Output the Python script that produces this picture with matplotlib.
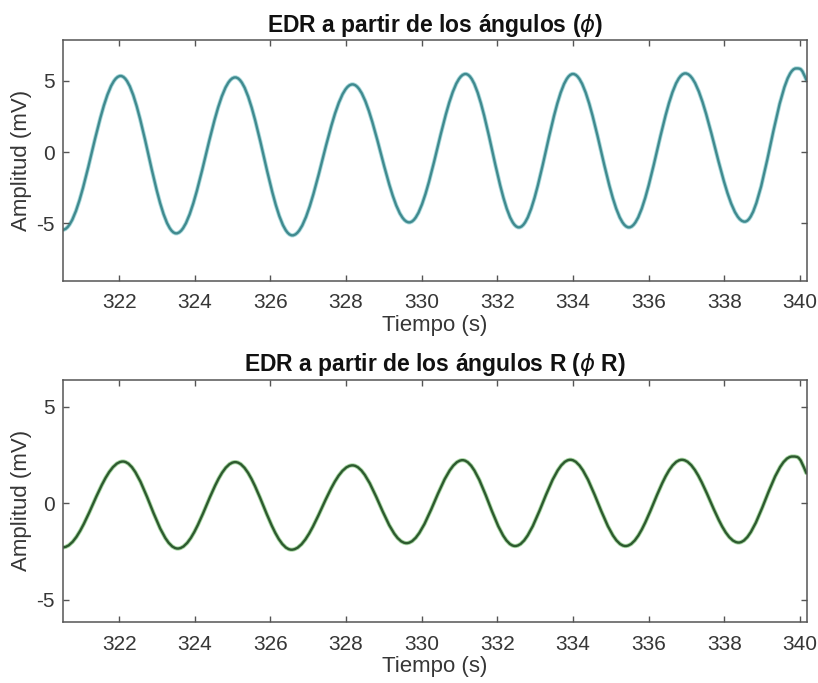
import numpy as np
import matplotlib
matplotlib.use("Agg")
import matplotlib.pyplot as plt
from matplotlib.path import Path
from matplotlib.patches import PathPatch
import matplotlib.patheffects as pe

# ---- data (extrema of each wave, plus end points) ----
top_times = [320.51, 322.04, 323.51, 325.07, 326.58, 328.17, 329.67, 331.16,
             332.57, 334.00, 335.48, 336.97, 338.54, 339.90, 340.18]
top_values = [-5.45, 5.33, -5.70, 5.23, -5.84, 4.74, -4.93, 5.47,
              -5.28, 5.47, -5.28, 5.51, -4.88, 5.86, 5.00]

bot_times = [320.51, 322.10, 323.55, 325.07, 326.56, 328.17, 329.60, 331.08,
             332.47, 333.93, 335.39, 336.88, 338.38, 339.80, 340.17]
bot_values = [-2.28, 2.17, -2.34, 2.14, -2.40, 1.97, -2.06, 2.24,
              -2.21, 2.26, -2.21, 2.26, -2.03, 2.43, 1.57]

x_ticks = [322, 324, 326, 328, 330, 332, 334, 336, 338, 340]
y_ticks = [-5, 0, 5]

top_title = r"EDR a partir de los ángulos ($\phi$)"
bot_title = r"EDR a partir de los ángulos R ($\phi$ R)"
x_label = "Tiempo (s)"
y_label = "Amplitud (mV)"

plt.rcParams['font.family'] = ['Liberation Sans', 'DejaVu Sans']
plt.rcParams['mathtext.fontset'] = 'dejavusans'
plt.rcParams['axes.unicode_minus'] = False

fig = plt.figure(figsize=(8.18, 6.83), dpi=100)
fig.patch.set_facecolor('white')

axis_col = '#555555'
text_col = '#363636'


def smooth_path(ts, vs):
    """Smooth curve through the extrema: horizontal tangent at each extremum."""
    a = 0.364
    verts = [(ts[0], vs[0])]
    codes = [Path.MOVETO]
    n = len(ts)
    for i in range(n - 1):
        t0, v0, t1, v1 = ts[i], vs[i], ts[i + 1], vs[i + 1]
        dt = t1 - t0
        if i == n - 2:
            c1 = (t0 + dt / 2, v0)
            c2 = (t0 + dt / 2, v0)
        else:
            c1 = (t0 + a * dt, v0)
            c2 = (t1 - a * dt, v1)
        verts += [c1, c2, (t1, v1)]
        codes += [Path.CURVE4] * 3
    return Path(verts, codes)


def style_axes(ax, ylim, title):
    ax.set_xlim(320.51, 340.18)
    ax.set_ylim(*ylim)
    ax.set_xticks(x_ticks)
    ax.set_yticks(y_ticks)
    ax.tick_params(direction='in', length=4, width=1.0, color=axis_col,
                   top=True, right=True, labelsize=15, labelcolor=text_col)
    ax.tick_params(axis='x', pad=9)
    ax.tick_params(axis='y', pad=6)
    for s in ax.spines.values():
        s.set_color(axis_col)
        s.set_linewidth(1.1)
    ax.set_title(title, fontsize=16.5, fontweight='bold', color='#111111', pad=6)
    ax.set_xlabel(x_label, fontsize=16, color=text_col, labelpad=2)
    ax.set_ylabel(y_label, fontsize=16, color=text_col, labelpad=3)


ax1 = fig.add_axes([0.0767, 0.589, 0.9095, 0.3524])
p1 = PathPatch(smooth_path(top_times, top_values), facecolor='none',
               edgecolor='#408a8f', linewidth=1.7, capstyle='round')
p1.set_path_effects([pe.Stroke(linewidth=3.0, foreground='#a9d9db'), pe.Normal()])
ax1.add_patch(p1)
style_axes(ax1, (-9.02, 7.85), top_title)

ax2 = fig.add_axes([0.0767, 0.0893, 0.9095, 0.3547])
p2 = PathPatch(smooth_path(bot_times, bot_values), facecolor='none',
               edgecolor='#2d5a2f', linewidth=1.7, capstyle='round')
p2.set_path_effects([pe.Stroke(linewidth=3.0, foreground='#a9d8a4'), pe.Normal()])
ax2.add_patch(p2)
style_axes(ax2, (-6.15, 6.41), bot_title)

fig.savefig('out.png', dpi=100, facecolor='white')
